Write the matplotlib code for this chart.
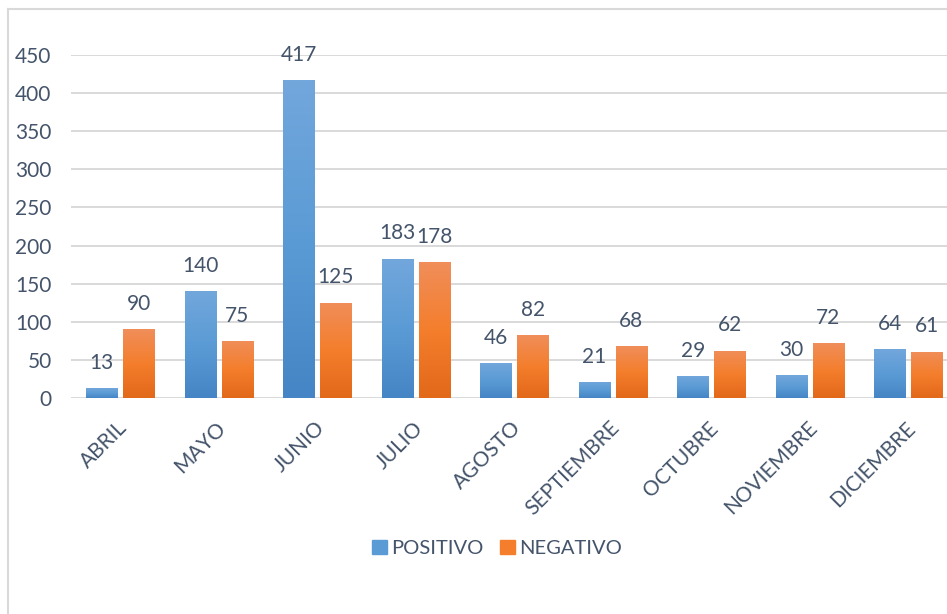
import numpy as np
import matplotlib
matplotlib.use("Agg")
import matplotlib.pyplot as plt
from matplotlib.colors import LinearSegmentedColormap
from matplotlib.lines import Line2D
from matplotlib.transforms import ScaledTranslation

# Datos del gráfico
meses = ["ABRIL", "MAYO", "JUNIO", "JULIO", "AGOSTO", "SEPTIEMBRE",
         "OCTUBRE", "NOVIEMBRE", "DICIEMBRE"]
positivo = [13, 140, 417, 183, 46, 21, 29, 30, 64]
negativo = [90, 75, 125, 178, 82, 68, 62, 72, 61]
y_ticks = [0, 50, 100, 150, 200, 250, 300, 350, 400, 450]

TEXTO = "#44546A"
GRIS = "#D9D9D9"
plt.rcParams['font.family'] = ['Lato', 'DejaVu Sans']

azul = LinearSegmentedColormap.from_list("azul", ["#4585C5", "#5B9BD5", "#72A7DC"])
naranja = LinearSegmentedColormap.from_list("naranja", ["#E2681A", "#F47E2C", "#F08E5A"])


# Barras con degradado vertical
def barras_degradado(ax, x, valores, ancho, cmap, color):
    barras = ax.bar(x, valores, width=ancho, color=color, zorder=2)
    grad = np.linspace(0, 1, 256).reshape(-1, 1)
    for b in barras:
        x0, y0 = b.get_x(), b.get_y()
        w, h = b.get_width(), b.get_height()
        im = ax.imshow(grad, cmap=cmap, aspect='auto', origin='lower',
                       extent=(x0, x0 + w, y0, y0 + h), zorder=3)
        im.set_clip_path(b)
    return barras


fig = plt.figure(figsize=(9.47, 6.14), dpi=100)
ax = fig.add_axes([71 / 947, 216 / 614, 886.5 / 947, 343 / 614])

x = np.arange(len(meses))
ancho = 0.315
sep = 0.03
b1 = barras_degradado(ax, x - ancho / 2 - sep, positivo, ancho, azul, "#5B9BD5")
b2 = barras_degradado(ax, x + ancho / 2 + sep, negativo, ancho, naranja, "#F47E2C")

for barras, vals in ((b1, positivo), (b2, negativo)):
    for b, v in zip(barras, vals):
        ax.annotate(str(v), (b.get_x() + b.get_width() / 2, v),
                    xytext=(0, 11), textcoords='offset points',
                    ha='center', va='bottom', fontsize=15, color=TEXTO)

ax.set_xlim(-0.5, len(meses) - 0.5)
ax.set_ylim(0, 450)
ax.set_yticks(y_ticks)
ax.yaxis.grid(True, color=GRIS, linewidth=1.4, zorder=0)
ax.set_axisbelow(True)
for s in ax.spines.values():
    s.set_visible(False)
ax.tick_params(axis='both', length=0, labelsize=15, labelcolor=TEXTO)
ax.tick_params(axis='y', pad=14)

ax.set_xticks(x)
ax.set_xticklabels(meses, rotation=45, ha='right', va='center',
                   rotation_mode='anchor')
desplaza = ScaledTranslation(4 / 100, -22 / 100, fig.dpi_scale_trans)
for lab in ax.get_xticklabels():
    lab.set_transform(lab.get_transform() + desplaza)

# Leyenda
handles = [plt.Rectangle((0, 0), 1, 1, color="#5B9BD5"),
           plt.Rectangle((0, 0), 1, 1, color="#F47E2C")]
fig.legend(handles, ["POSITIVO", "NEGATIVO"], loc='center',
           bbox_to_anchor=(0.525, 0.107), ncol=2, frameon=False,
           fontsize=14.5, labelcolor=TEXTO, handlelength=0.75,
           handleheight=0.75, handletextpad=0.2, columnspacing=0.8)

# Borde del área del gráfico (solo visible izquierda y arriba)
fig.add_artist(Line2D([8 / 947, 8 / 947], [0, 1 - 9 / 614], color=GRIS,
                      linewidth=1.5, transform=fig.transFigure))
fig.add_artist(Line2D([8 / 947, 1], [1 - 9 / 614, 1 - 9 / 614], color=GRIS,
                      linewidth=1.5, transform=fig.transFigure))

fig.savefig("out.png", dpi=100)
